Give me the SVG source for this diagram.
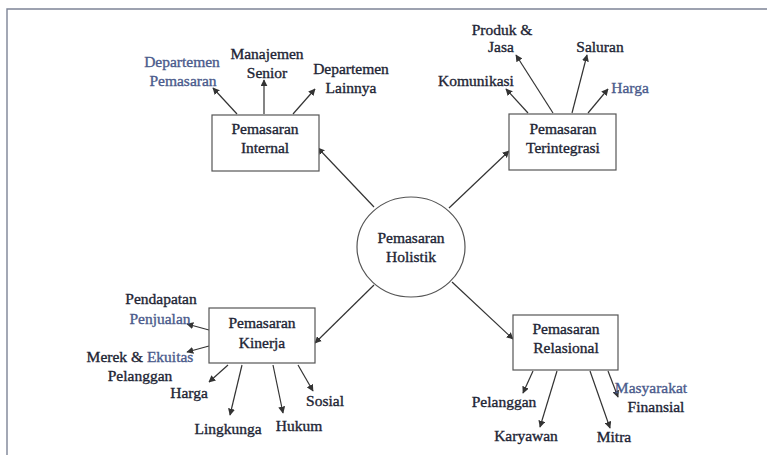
<svg xmlns="http://www.w3.org/2000/svg" width="767" height="455" viewBox="0 0 767 455">
  <style>
    text { font-family: "Liberation Serif", "DejaVu Serif", serif; font-size: 15.5px; fill: #1e2535; stroke: #1e2535; stroke-width: 0.35; text-anchor: middle; }
    .soft { fill: #4b5b8c; stroke: #4b5b8c; }
    .box { fill: #ffffff; stroke: #555555; stroke-width: 1.2; }
    .link { stroke: #333333; stroke-width: 1.2; fill: none; marker-end: url(#head); }
    .frame { stroke: #7d8496; stroke-width: 1.4; fill: none; }
  </style>
  <defs>
    <marker id="head" viewBox="0 0 10 10" refX="9" refY="5" markerWidth="7" markerHeight="7" markerUnits="userSpaceOnUse" orient="auto">
      <path d="M0,0 L10,5 L0,10 z" fill="#333333"/>
    </marker>
  </defs>

  <rect x="0" y="0" width="767" height="455" fill="#ffffff"/>
  <!-- page frame: top and left rules -->
  <path class="frame" d="M7,455 V9 H767"/>

  <g id="connectors">
    <!-- hub to the four areas -->
    <line class="link" x1="374" y1="207" x2="318" y2="148"/>
    <line class="link" x1="449" y1="208" x2="509" y2="151"/>
    <line class="link" x1="374" y1="285" x2="315" y2="343"/>
    <line class="link" x1="452" y1="282" x2="513" y2="339"/>
    <!-- internal -->
    <line class="link" x1="237" y1="114" x2="213" y2="88"/>
    <line class="link" x1="264" y1="114" x2="264" y2="80"/>
    <line class="link" x1="293" y1="114" x2="315" y2="89"/>
    <!-- integrated -->
    <line class="link" x1="528" y1="113" x2="506" y2="89"/>
    <line class="link" x1="553" y1="113" x2="516" y2="55"/>
    <line class="link" x1="572" y1="113" x2="587" y2="55"/>
    <line class="link" x1="588" y1="113" x2="608" y2="89"/>
    <!-- performance -->
    <line class="link" x1="209" y1="330" x2="187" y2="324"/>
    <line class="link" x1="209" y1="346" x2="187" y2="352"/>
    <line class="link" x1="228" y1="365" x2="209" y2="382"/>
    <line class="link" x1="242" y1="365" x2="230" y2="415"/>
    <line class="link" x1="273" y1="365" x2="283" y2="413"/>
    <line class="link" x1="298" y1="365" x2="313" y2="391"/>
    <!-- relationship -->
    <line class="link" x1="533" y1="371" x2="523" y2="393"/>
    <line class="link" x1="557" y1="371" x2="540" y2="427"/>
    <line class="link" x1="590" y1="371" x2="610" y2="428"/>
    <line class="link" x1="608" y1="371" x2="618" y2="397"/>
  </g>

  <g id="holistik">
    <ellipse cx="411" cy="247" rx="54" ry="50" fill="#ffffff" stroke="#555555" stroke-width="1.2"/>
    <text x="411" y="243">Pemasaran</text>
    <text x="411" y="262">Holistik</text>
  </g>

  <g id="internal">
    <rect class="box" x="212" y="115" width="107" height="56"/>
    <text x="265" y="134">Pemasaran</text>
    <text x="265" y="153">Internal</text>
  </g>
  <g id="internal-dept-pemasaran">
    <text class="soft" x="182" y="67">Departemen</text>
    <text class="soft" x="183" y="86">Pemasaran</text>
  </g>
  <g id="internal-manajemen">
    <text x="267" y="59">Manajemen</text>
    <text x="267" y="78">Senior</text>
  </g>
  <g id="internal-dept-lain">
    <text x="351" y="74">Departemen</text>
    <text x="351" y="93">Lainnya</text>
  </g>

  <g id="terintegrasi">
    <rect class="box" x="509" y="114" width="107" height="56"/>
    <text x="563" y="134">Pemasaran</text>
    <text x="563" y="153">Terintegrasi</text>
  </g>
  <g id="terintegrasi-produk">
    <text x="502" y="35">Produk &amp;</text>
    <text x="501" y="52">Jasa</text>
  </g>
  <g id="terintegrasi-saluran"><text x="600" y="52">Saluran</text></g>
  <g id="terintegrasi-komunikasi"><text x="476" y="86">Komunikasi</text></g>
  <g id="terintegrasi-harga"><text class="soft" x="630" y="93">Harga</text></g>

  <g id="kinerja">
    <rect class="box" x="209" y="308" width="106" height="55"/>
    <text x="262" y="328">Pemasaran</text>
    <text x="262" y="348">Kinerja</text>
  </g>
  <g id="kinerja-pendapatan">
    <text x="161" y="304">Pendapatan</text>
    <text class="soft" x="160" y="324">Penjualan</text>
  </g>
  <g id="kinerja-ekuitas">
    <text x="140" y="362">Merek &amp; <tspan class="soft">Ekuitas</tspan></text>
    <text x="140" y="381">Pelanggan</text>
  </g>
  <g id="kinerja-harga"><text x="189" y="398">Harga</text></g>
  <g id="kinerja-lingkungan"><text x="228" y="434">Lingkunga</text></g>
  <g id="kinerja-hukum"><text x="299" y="431">Hukum</text></g>
  <g id="kinerja-sosial"><text x="325" y="406">Sosial</text></g>

  <g id="relasional">
    <rect class="box" x="513" y="315" width="105" height="55"/>
    <text x="566" y="334">Pemasaran</text>
    <text x="566" y="353">Relasional</text>
  </g>
  <g id="relasional-pelanggan"><text x="504" y="407">Pelanggan</text></g>
  <g id="relasional-karyawan"><text x="526" y="441">Karyawan</text></g>
  <g id="relasional-mitra"><text x="614" y="442">Mitra</text></g>
  <g id="relasional-masyarakat">
    <text class="soft" x="651" y="393">Masyarakat</text>
    <text x="656" y="412">Finansial</text>
  </g>
</svg>
